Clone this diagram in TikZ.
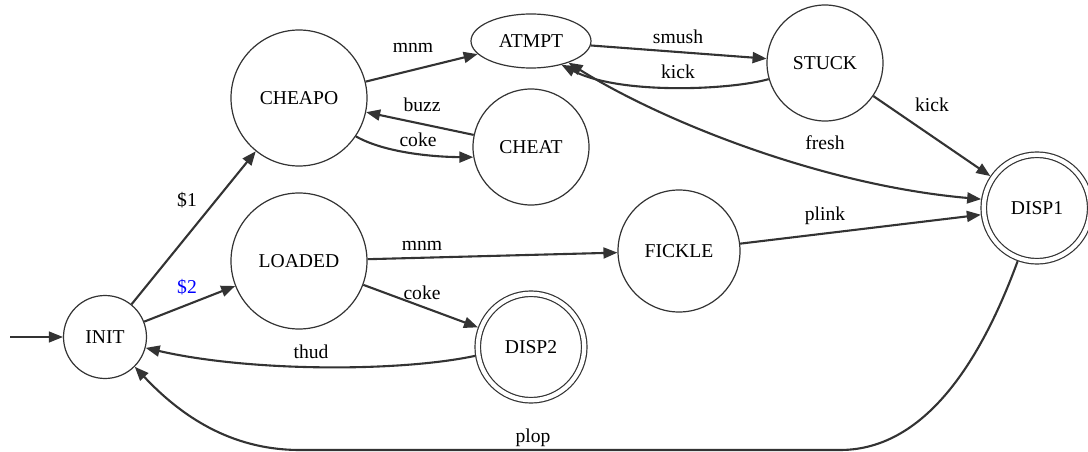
\documentclass[tikz,border=0pt]{standalone}
\usepackage{fontspec}
\setmainfont{Liberation Serif}
\usetikzlibrary{arrows.meta,shapes.geometric}

\definecolor{ink}{RGB}{51,51,51}

\tikzset{
    state/.style={circle, draw=ink, line width=1.2pt, inner sep=0pt},
    final/.style={state, double, double distance=4.3pt, outer sep=3.3pt, minimum size=106.5pt},
    trans/.style={draw=ink, line width=2.1pt, ->},
    lbl/.style={inner sep=0pt},
    >={Triangle[length=14pt,width=11pt]},
}

\begin{document}
\begin{tikzpicture}[x=1pt, y=-1pt, font=\fontsize{19.6}{24}\selectfont]
    \useasboundingbox (0,0) rectangle (1088,452);

    % states
    \node [state, minimum size=83pt] (init) at (105,337) {INIT};
    \node [state, minimum size=136pt] (cheapo) at (299,98) {CHEAPO};
    \node [state, minimum size=136pt] (loaded) at (299,261) {LOADED};
    \node [ellipse, draw=ink, line width=1.2pt, inner sep=0pt,
           minimum width=120pt, minimum height=54pt] (atmpt) at (531,41) {ATMPT};
    \node [state, minimum size=116pt] (cheat) at (531,147) {CHEAT};
    \node [state, minimum size=116pt] (stuck) at (825,63) {STUCK};
    \node [state, minimum size=122pt] (fickle) at (679,251) {FICKLE};
    \node [final] (disp2) at (531,347) {DISP2};
    \node [final] (disp1) at (1037,208) {DISP1};
    \coordinate (start) at (10,337);

    % transitions
    \draw [->, draw=ink, line width=1.2pt] (start) -- (init);
    \draw [trans] (init) -- (cheapo) node [lbl] (l1) at (187,200) {\$1};
    \draw [trans] (init) -- (loaded) node [lbl, text=blue] (l2) at (187,287) {\$2};
    \draw [trans] (cheapo) -- (atmpt) node [lbl] (l3) at (413,48) {mnm};
    \draw [trans] (cheapo.-34) .. controls (385,153) and (435,157) .. (cheat.190)
        node [lbl] (l4) at (418,140) {coke};
    \draw [trans] (cheat) -- (cheapo) node [lbl] (l5) at (422,105) {buzz};
    \draw [trans] (atmpt) -- (stuck) node [lbl] (l6) at (678,37) {smush};
    \draw [trans] (stuck.196) .. controls (730,90) and (620,95) .. (atmpt.-38)
        node [lbl] (l7) at (678,72) {kick};
    \draw [trans, <->] (atmpt.-30) .. controls (660,120) and (820,185) .. (disp1.171)
        node [lbl] (l8) at (825,143) {fresh};
    \draw [trans] (stuck) -- (disp1) node [lbl] (l9) at (932,105) {kick};
    \draw [trans] (loaded) -- (fickle) node [lbl] (l10) at (422,246) {mnm};
    \draw [trans] (loaded) -- (disp2) node [lbl] (l11) at (422,293) {coke};
    \draw [trans] (fickle) -- (disp1) node [lbl] (l12) at (825,216) {plink};
    \draw [trans] (disp2.189) .. controls (400,372) and (250,372) .. (init.-15)
        node [lbl] (l13) at (311,352) {thud};
    \draw [trans] (disp1.-110) .. controls (985,350) and (930,450) .. (840,450)
        -- (300,450) .. controls (230,450) and (180,415) .. (init.-45)
        node [lbl] (l14) at (533,438) {plop};
\end{tikzpicture}
\end{document}
